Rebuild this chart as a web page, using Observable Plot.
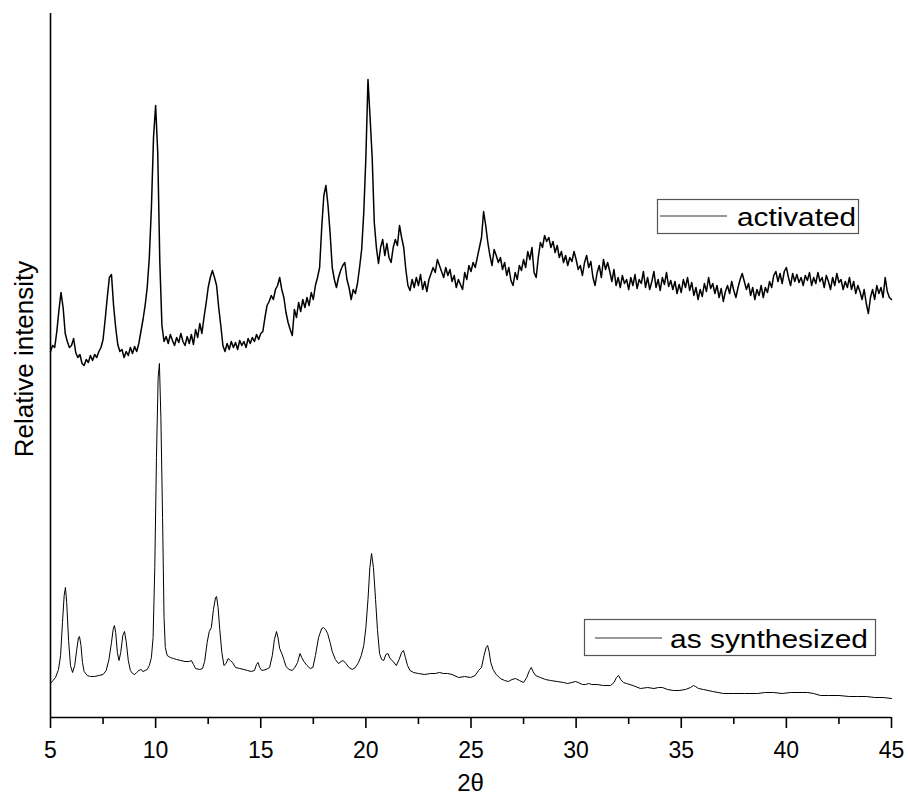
<!DOCTYPE html>
<html>
<head>
<meta charset="utf-8">
<script src="https://cdn.jsdelivr.net/npm/d3@7"></script>
<script src="https://cdn.jsdelivr.net/npm/@observablehq/plot@0.6"></script>
<style>
  html, body { margin: 0; padding: 0; background: #fff; }
  #chart svg { display: block; overflow: visible; }
</style>
</head>
<body>
<div id="chart"></div>
<script>
// ---- data (2θ in degrees, relative intensity in arbitrary units) ----
const seriesNames = ["activated", "as synthesized"];

const activatedStart = 5.0;
const activatedStep = 0.1;
const activatedIntensity = [
  366,372,370,386,407,425,410,384,376,370,
  372,379,365,360,363,354,352,358,355,362,
  357,363,360,366,370,378,398,420,440,443,
  412,390,373,366,368,360,366,362,370,364,
  371,366,374,386,398,412,430,460,510,580,
  612,565,455,392,376,381,374,383,377,372,
  380,375,384,376,372,381,374,383,373,388,
  380,394,384,400,414,430,440,447,440,432,
  410,392,372,366,374,368,376,370,375,368,
  377,372,376,370,379,374,380,376,383,378,
  384,386,400,412,416,422,418,428,432,440,
  428,420,405,395,388,382,408,400,415,406,
  418,410,420,412,425,418,432,440,450,490,
  522,532,512,484,450,438,430,440,447,452,
  455,438,430,418,428,424,434,450,468,505,
  560,638,600,560,495,470,454,470,478,462,
  474,460,455,470,478,472,492,480,470,448,
  432,427,438,430,440,432,443,428,436,426,
  438,444,450,445,458,452,446,440,450,442,
  448,436,442,430,438,433,428,445,438,452,
  446,455,450,460,470,480,506,492,475,462,
  452,468,462,455,460,448,455,442,450,437,
  432,445,438,452,447,458,450,466,458,470,
  445,440,460,475,470,482,476,480,470,476,
  465,472,460,466,455,462,452,460,456,466,
  458,448,452,442,455,462,450,456,440,432,
  445,452,440,458,448,455,446,436,448,432,
  440,430,442,434,438,428,440,432,443,429,
  438,434,446,430,440,428,436,446,430,438,
  427,440,433,445,431,437,428,436,424,433,
  425,438,430,440,427,435,422,430,418,428,
  421,434,426,440,429,434,424,432,420,429,
  416,426,432,424,436,427,420,430,438,444,
  436,428,434,422,430,418,428,422,432,420,
  430,425,436,430,442,446,436,444,434,446,
  450,440,432,444,436,443,435,440,432,442,
  437,445,432,440,434,445,436,440,430,442,
  436,428,440,432,444,435,438,428,436,430,
  440,428,436,424,432,426,418,428,414,404,
  420,428,418,432,424,430,420,440,426,420,
  418
];

const synthesizedAngle = [
  5.00,5.12,5.24,5.38,5.48,5.57,5.65,5.71,5.77,5.86,5.95,6.05,6.15,6.25,6.33,6.38,6.45,6.52,6.60,6.75,
  6.9,7.1,7.3,7.5,7.65,7.78,7.90,7.98,8.04,8.10,8.18,8.26,8.34,8.44,8.52,8.60,8.70,8.80,8.90,9.00,
  9.10,9.20,9.30,9.40,9.50,9.60,9.70,9.80,9.88,9.96,10.04,10.12,10.18,10.25,10.33,10.40,10.46,10.55,10.7,10.85,
  11.0,11.2,11.4,11.6,11.7,11.8,11.9,12.1,12.23,12.33,12.45,12.55,12.65,12.75,12.85,12.90,12.97,13.05,13.15,13.25,
  13.35,13.45,13.55,13.66,13.80,14.0,14.2,14.37,14.55,14.70,14.80,14.87,14.95,15.05,15.25,15.42,15.55,15.65,15.75,15.82,
  15.9,16.0,16.1,16.2,16.35,16.5,16.62,16.75,16.87,16.95,17.05,17.2,17.35,17.48,17.6,17.75,17.9,17.98,18.08,18.18,
  18.3,18.4,18.55,18.7,18.82,18.92,19.05,19.2,19.35,19.5,19.65,19.78,19.9,20.0,20.1,20.19,20.27,20.36,20.46,20.55,
  20.65,20.75,20.85,20.95,21.05,21.15,21.3,21.45,21.58,21.70,21.79,21.88,21.98,22.1,22.27,22.5,22.8,23.07,23.3,23.5,
  23.7,23.88,24.1,24.41,24.7,24.98,25.2,25.36,25.5,25.62,25.72,25.79,25.86,25.94,26.05,26.2,26.40,26.6,26.78,26.95,
  27.12,27.3,27.50,27.65,27.78,27.87,27.95,28.07,28.3,28.55,28.78,29.1,29.4,29.59,29.8,29.97,30.1,30.30,30.45,30.6,
  30.75,31.0,31.3,31.64,31.8,31.92,32.02,32.12,32.25,32.4,32.7,33.06,33.4,33.7,33.92,34.1,34.35,34.63,34.9,35.2,
  35.44,35.58,35.68,35.82,36.06,36.5,37.01,37.5,38.0,38.63,39.0,39.39,39.8,40.2,40.6,41.01,41.3,41.62,42.0,42.5,
  43.0,43.38,43.8,44.2,44.6,45.0
];
const synthesizedIntensity = [
  34,37,40,48,62,95,122,130,115,77,52,45,52,68,80,81,72,55,46,42,
  41,41,42,43,47,58,75,88,92,85,65,57,65,82,86,76,57,47,44,43,
  45,47,48,46,47,48,52,60,80,150,260,340,354,300,200,100,70,62,60,59,
  58,57,56,56,57,53,49,48,49,56,75,86,90,108,120,121,110,88,65,52,
  54,59,57,55,50,49,48,47,46,47,53,55,50,47,48,50,62,78,86,80,
  69,64,58,51,48,47,50,55,64,60,56,52,49,50,62,80,89,90,88,84,
  75,66,58,54,56,57,54,50,48,50,55,62,72,90,118,150,164,150,118,88,
  64,58,57,63,64,59,56,52,58,65,67,60,52,47,45,44,43,44,44,45,
  44,44,43,40,41,40,42,47,50,62,70,72,66,55,48,43,39,37,36,38,
  39,37,35,40,47,50,46,42,40,38,37,36,35,34,35,36,35,33,33,34,
  33,33,32,32,35,40,42,38,35,34,32,29,30,29,30,30,28,27,27,28,
  30,32,31,29,28,26,24,24,24,24,25,25,24,25,25,25,24,22,22,22,
  21,21,21,20,20,19
];

const majorTicks = [5, 10, 15, 20, 25, 30, 35, 40, 45];
const minorTicks = [7.5, 12.5, 17.5, 22.5, 27.5, 32.5, 37.5, 42.5];
const xLabel = "2θ";
const yLabel = "Relative intensity";

// ---- tables built from the arrays ----
const activated = activatedIntensity.map((v, i) => ({
  angle: +(activatedStart + i * activatedStep).toFixed(2), intensity: v, series: seriesNames[0]
}));
const synthesized = synthesizedAngle.map((a, i) => ({
  angle: a, intensity: synthesizedIntensity[i], series: seriesNames[1]
}));

const font = "'Liberation Sans', Arial, Helvetica, sans-serif";

const chart = Plot.plot({
  width: 908,
  height: 796,
  marginTop: 13,
  marginBottom: 79,
  marginLeft: 50,
  marginRight: 17,
  style: { fontFamily: font, background: "#fff", color: "#000" },
  x: { domain: [5, 45] },
  y: { domain: [0, 704], axis: null },
  marks: [
    Plot.axisX({ ticks: minorTicks, tickSize: 7, tickFormat: () => "", label: null, strokeWidth: 1.6 }),
    Plot.axisX({ ticks: majorTicks, tickSize: 11, tickPadding: 13, fontSize: 23, label: null, strokeWidth: 1.6 }),
    Plot.ruleY([0], { stroke: "#000", strokeWidth: 1.6 }),
    Plot.ruleX([5], { y1: 0, y2: 704, stroke: "#000", strokeWidth: 1.6 }),
    Plot.line(synthesized, { x: "angle", y: "intensity", stroke: "#000", strokeWidth: 1 }),
    Plot.line(activated, { x: "angle", y: "intensity", stroke: "#000", strokeWidth: 1.5 })
  ]
});

document.getElementById("chart").appendChild(chart);

// ---- axis titles and in-plot legends ----
const svg = d3.select(chart);
svg.append("text")
  .attr("x", 470.5).attr("y", 791)
  .attr("text-anchor", "middle")
  .attr("font-family", font).attr("font-size", 24).attr("fill", "#000")
  .text(xLabel);
svg.append("text")
  .attr("transform", "translate(33,359) rotate(-90)")
  .attr("text-anchor", "middle")
  .attr("font-family", font).attr("font-size", 26).attr("fill", "#000")
  .text(yLabel);

const legends = [
  { name: seriesNames[0], box: [657, 199, 201, 34], line: [660, 727, 216], tx: 737, ty: 226, tw: 119 },
  { name: seriesNames[1], box: [584, 619, 291, 36], line: [595, 662, 638], tx: 670, ty: 648, tw: 198 }
];
for (const L of legends) {
  const g = svg.append("g");
  g.append("rect")
    .attr("x", L.box[0] + 0.5).attr("y", L.box[1] + 0.5)
    .attr("width", L.box[2]).attr("height", L.box[3])
    .attr("fill", "#fff").attr("stroke", "#555").attr("stroke-width", 1.2);
  g.append("line")
    .attr("x1", L.line[0]).attr("x2", L.line[1])
    .attr("y1", L.line[2]).attr("y2", L.line[2])
    .attr("stroke", "#777").attr("stroke-width", 1.5);
  g.append("text")
    .attr("x", L.tx).attr("y", L.ty)
    .attr("text-anchor", "start")
    .attr("font-family", font).attr("font-size", 26).attr("fill", "#000")
    .attr("textLength", L.tw).attr("lengthAdjust", "spacingAndGlyphs")
    .text(L.name);
}
</script>
</body>
</html>
